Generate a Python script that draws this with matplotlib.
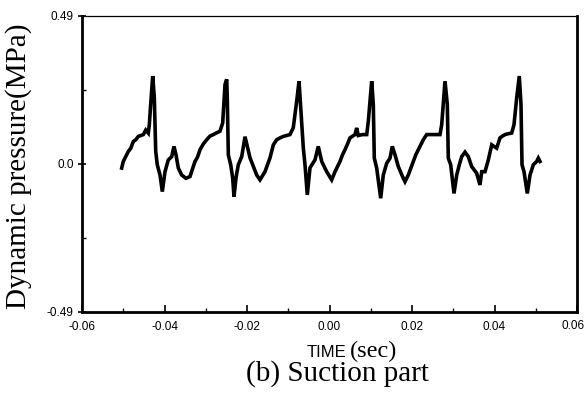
import numpy as np
import matplotlib
matplotlib.use('Agg')
from matplotlib import pyplot as plt
from matplotlib.ticker import MultipleLocator, FixedLocator

# Suction-side dynamic pressure record (time in s, pressure in MPa)
time = [
    -0.05038, -0.04999, -0.04878, -0.04817, -0.04756, -0.04696, -0.04635, -0.04575,
    -0.04514, -0.04454, -0.04393, -0.04368,
    -0.04335, -0.04286, -0.04247, -0.04213, -0.04175, -0.04109, -0.04053, -0.03988,
    -0.03908, -0.03825, -0.03770, -0.03721, -0.03665, -0.03583, -0.03479, -0.03382,
    -0.03261, -0.03200, -0.03139, -0.03058, -0.02977, -0.02897, -0.02817, -0.02736,
    -0.02655, -0.02589, -0.02533, -0.02492,
    -0.02478, -0.02453, -0.02395, -0.02347, -0.02315, -0.02267, -0.02211, -0.02128,
    -0.02048, -0.01927, -0.01765, -0.01685, -0.01564, -0.01442, -0.01362, -0.01280,
    -0.01200, -0.01120, -0.01040, -0.00958, -0.00878, -0.00795, -0.00739,
    -0.00635, -0.00594, -0.00538, -0.00473, -0.00352, -0.00272, -0.00189, -0.00068,
    0.00053, 0.00133, 0.00255, 0.00315, 0.00376, 0.00437, 0.00497, 0.00618, 0.00659,
    0.00698, 0.00800, 0.00902, 0.00941, 0.01023,
    0.01062, 0.01086, 0.01144, 0.01241, 0.01304, 0.01387, 0.01467, 0.01522,
    0.01588, 0.01668, 0.01789, 0.01830, 0.01910, 0.02031, 0.02092, 0.02153, 0.02213,
    0.02274, 0.02356, 0.02500, 0.02679, 0.02720, 0.02800,
    0.02856, 0.02880, 0.02938, 0.03018, 0.03084, 0.03147, 0.03205, 0.03285,
    0.03365, 0.03447, 0.03568, 0.03648, 0.03690, 0.03770, 0.03850, 0.03932,
    0.04053, 0.04133, 0.04194, 0.04255, 0.04336, 0.04417, 0.04473, 0.04538, 0.04601,
    0.04642, 0.04667, 0.04715, 0.04795, 0.04861, 0.04941, 0.05023, 0.05062,
    0.05103,
]
pressure = [
    -0.014, 0.008, 0.041, 0.052, 0.074, 0.080, 0.091, 0.094,
    0.097, 0.112, 0.102, 0.130,
    0.197, 0.291, 0.220, 0.041, -0.003, -0.037, -0.092, -0.026,
    0.013, 0.024, 0.058, 0.030, -0.014, -0.037, -0.048, -0.042,
    0.008, 0.022, 0.047, 0.066, 0.080, 0.092, 0.097, 0.103,
    0.108, 0.136, 0.263, 0.280,
    0.219, 0.030, -0.003, -0.047, -0.109, -0.047, -0.003, 0.024,
    0.090, 0.020, -0.037, -0.053, -0.026, 0.020, 0.063, 0.080,
    0.086, 0.091, 0.094, 0.097, 0.120, 0.208, 0.274,
    0.053, -0.003, -0.103, -0.013, 0.013, 0.058, 0.008, -0.026,
    -0.053, -0.026, 0.008, 0.030, 0.047, 0.066, 0.086, 0.097, 0.119,
    0.094, 0.097, 0.097, 0.141, 0.274,
    0.197, 0.019, -0.014, -0.114, -0.037, 0.002, 0.019, 0.058,
    0.030, -0.009, -0.048, -0.059, -0.037, 0.008, 0.030, 0.047, 0.064,
    0.080, 0.097, 0.097, 0.097, 0.130, 0.274,
    0.197, 0.019, -0.003, -0.098, -0.037, -0.003, 0.024, 0.039,
    0.024, -0.009, -0.031, -0.070, -0.026, -0.026, 0.013, 0.063,
    0.052, 0.086, 0.092, 0.097, 0.100, 0.102, 0.130, 0.219, 0.291,
    0.197, -0.003, -0.026, -0.098, -0.037, -0.003, 0.008, 0.019,
    0.008,
]

xticks = [-0.06, -0.04, -0.02, 0.00, 0.02, 0.04, 0.06]
xticklabels = ['-0.06', '-0.04', '-0.02', '0.00', '0.02', '0.04', '0.06']
yticks = [-0.49, 0.0, 0.49]
yticklabels = ['-0.49', '0.0', '0.49']

W, H = 587, 396
fig = plt.figure(figsize=(W / 100, H / 100), dpi=100)
ax = fig.add_axes([82 / W, 1 - 311.7 / H, (577 - 82) / W, (311.7 - 16) / H])

ax.plot(time, pressure, color='black', lw=2.6, solid_joinstyle='miter')

ax.set_xlim(-0.06, 0.06)
ax.set_ylim(-0.49, 0.49)
ax.set_xticks(xticks)
# the last time label sits at the canvas edge, it is drawn separately below
ax.set_xticklabels(xticklabels[:-1] + [''])
ax.set_yticks(yticks)
ax.set_yticklabels(yticklabels)
ax.xaxis.set_minor_locator(MultipleLocator(0.01))
ax.yaxis.set_minor_locator(FixedLocator([-0.245, 0.245]))

for lab in ax.get_xticklabels() + ax.get_yticklabels():
    lab.set_fontfamily('Liberation Sans')
    lab.set_fontsize(8.5)

ax.tick_params(which='major', direction='in', length=5, width=1.2, pad=7)
ax.tick_params(which='minor', direction='in', length=3, width=1.0)
ax.tick_params(axis='y', which='major', direction='inout', length=6, pad=3)

for side in ['left', 'bottom', 'right']:
    ax.spines[side].set_linewidth(2.0)
ax.spines['top'].set_linewidth(0.9)

def px(x, y):
    return x / W, 1 - y / H

fig.text(*px(585, 326), xticklabels[-1], ha='right', va='center',
         family='Liberation Sans', fontsize=8.5)
fig.text(*px(19, 166), 'Dynamic pressure(MPa)', rotation=90, ha='center', va='center',
         family='Liberation Serif', fontsize=21)
fig.text(*px(346, 357), 'TIME', ha='right', va='baseline',
         family='Liberation Sans', fontsize=12)
fig.text(*px(350, 357), '(sec)', ha='left', va='baseline',
         family='Liberation Serif', fontsize=17.5)
fig.text(*px(337, 381), '(b) Suction part', ha='center', va='baseline',
         family='Liberation Serif', fontsize=21)

fig.savefig('out.png', dpi=100)
